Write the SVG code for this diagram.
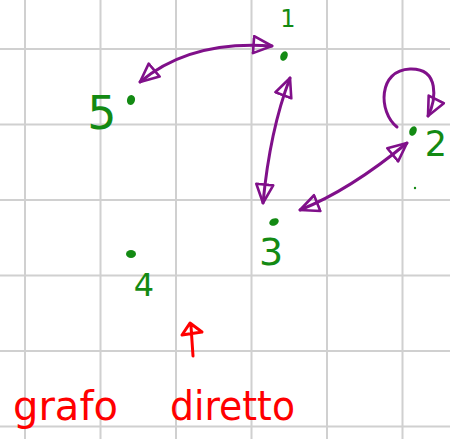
<svg xmlns="http://www.w3.org/2000/svg" width="450" height="439" viewBox="0 0 450 439">
<style>
.grid{stroke:#d0d0d0;stroke-width:2}
.edge{fill:none;stroke:#80108a;stroke-width:3;stroke-linecap:round}
.dot{fill:#138a13}
.lbl{fill:#138a13;font-family:"DejaVu Sans",sans-serif;text-anchor:middle}
.note{fill:#ff0000;font-family:"DejaVu Sans",sans-serif}
</style>
<defs>
<marker id="ah" markerUnits="userSpaceOnUse" markerWidth="28" markerHeight="28" refX="20" refY="10" orient="auto-start-reverse">
<path d="M1.5,1.5 L20,10 L1.5,18.5 Z" fill="none" stroke="#80108a" stroke-width="2.6" stroke-linejoin="round"/>
</marker>
</defs>
<rect width="450" height="439" fill="#fff"/>
<g id="grid">
<line class="grid" x1="25" y1="0" x2="25" y2="439"/>
<line class="grid" x1="100.5" y1="0" x2="100.5" y2="439"/>
<line class="grid" x1="176" y1="0" x2="176" y2="439"/>
<line class="grid" x1="251.5" y1="0" x2="251.5" y2="439"/>
<line class="grid" x1="327" y1="0" x2="327" y2="439"/>
<line class="grid" x1="402.5" y1="0" x2="402.5" y2="439"/>
<line class="grid" x1="0" y1="49" x2="450" y2="49"/>
<line class="grid" x1="0" y1="124.5" x2="450" y2="124.5"/>
<line class="grid" x1="0" y1="200" x2="450" y2="200"/>
<line class="grid" x1="0" y1="275.5" x2="450" y2="275.5"/>
<line class="grid" x1="0" y1="351" x2="450" y2="351"/>
<line class="grid" x1="0" y1="426.5" x2="450" y2="426.5"/>
</g>
<g id="edges">
<path class="edge" d="M140,82 Q190,40 272,46" marker-start="url(#ah)" marker-end="url(#ah)"/>
<path class="edge" d="M290,78 Q270,130 263,203" marker-start="url(#ah)" marker-end="url(#ah)"/>
<path class="edge" d="M300,210 Q350,190 407,143" marker-start="url(#ah)" marker-end="url(#ah)"/>
<path class="edge" d="M397,127 C378,112 378,70 410,69 C440,68 436,100 428,116" marker-end="url(#ah)"/>
</g>
<g id="node1"><ellipse class="dot" cx="284" cy="56" rx="3.5" ry="5" transform="rotate(25 284 56)"/><text class="lbl" x="288" y="27" font-size="24">1</text></g>
<g id="node2"><ellipse class="dot" cx="413" cy="131" rx="3.5" ry="5" transform="rotate(25 413 131)"/><text class="lbl" x="436" y="156" font-size="35">2</text></g>
<g id="node3"><ellipse class="dot" cx="274" cy="222" rx="5" ry="3.5" transform="rotate(-25 274 222)"/><text class="lbl" x="271" y="265" font-size="38">3</text></g>
<g id="node4"><ellipse class="dot" cx="131" cy="254" rx="5" ry="4"/><text class="lbl" x="144" y="296" font-size="32">4</text></g>
<g id="node5"><ellipse class="dot" cx="131" cy="100" rx="4" ry="5" transform="rotate(15 131 100)"/><text class="lbl" x="102" y="129" font-size="46">5</text></g>
<circle class="dot" cx="415" cy="188" r="1.2"/>
<g id="note">
<path d="M193,356 L191,326 M182,335 L190,323 L202,332 Z" fill="none" stroke="#ff0000" stroke-width="3" stroke-linecap="round" stroke-linejoin="round"/>
<text class="note" font-size="40"><tspan x="13" y="420" textLength="105" lengthAdjust="spacingAndGlyphs">grafo</tspan><tspan x="170" y="420" textLength="125" lengthAdjust="spacingAndGlyphs">diretto</tspan></text>
</g>
</svg>
